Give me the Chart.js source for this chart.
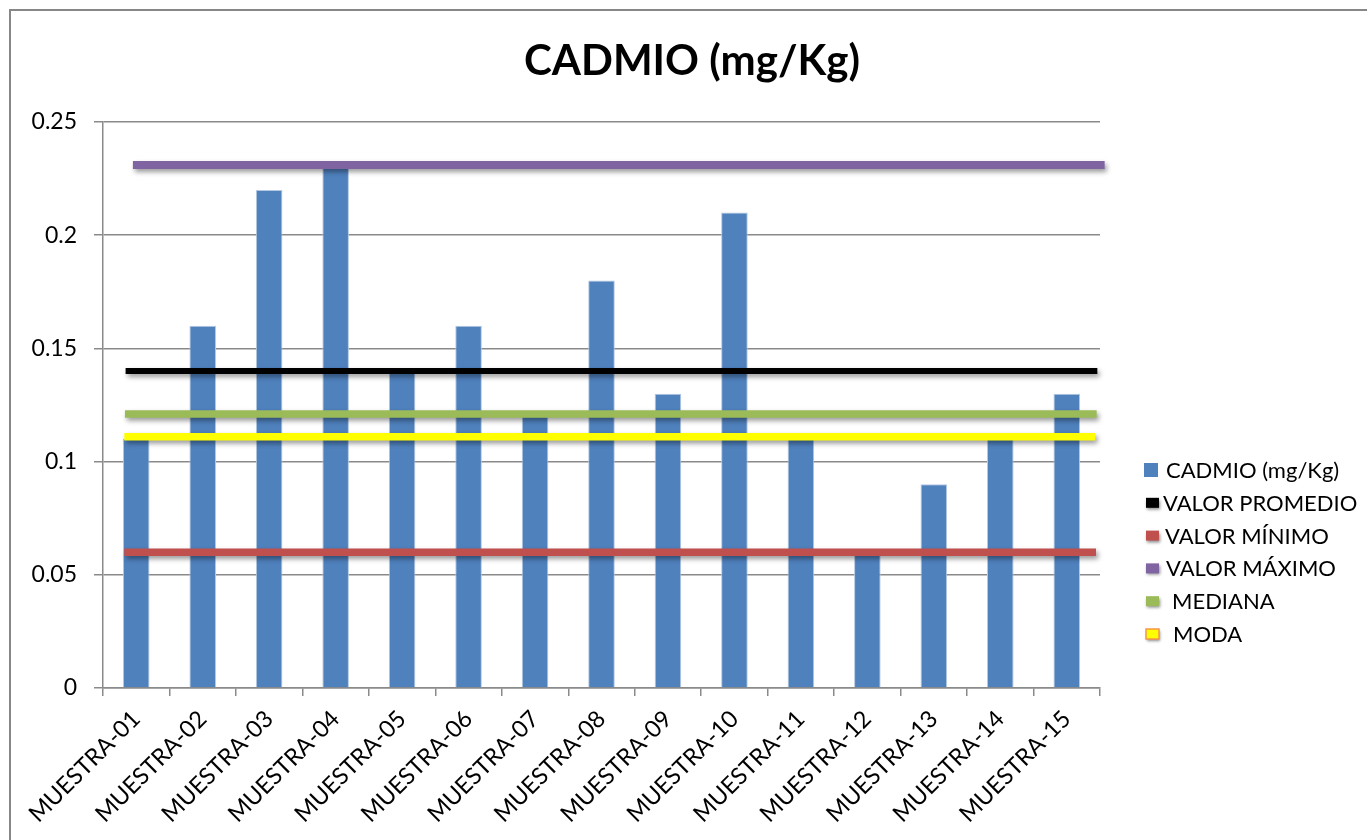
<!DOCTYPE html>
<html>
<head>
<meta charset="utf-8">
<script src="https://cdn.jsdelivr.net/npm/chart.js@4.4.1/dist/chart.umd.min.js"></script>
<style>
  html, body { margin: 0; padding: 0; background: #fff; overflow: hidden; width: 1367px; height: 840px; }
  #frame { position: absolute; left: 9px; top: 9px; width: 1400px; height: 900px; border: 2px solid #878787; box-sizing: border-box; }
  #wrap { position: absolute; left: 11px; top: 12px; width: 1362px; height: 828px; }
</style>
</head>
<body>
<div id="frame"></div>
<div id="wrap"><canvas id="c" width="1362" height="828"></canvas></div>
<script>
// Samples and measured cadmium content
const categories = ['MUESTRA-01', 'MUESTRA-02', 'MUESTRA-03', 'MUESTRA-04', 'MUESTRA-05',
  'MUESTRA-06', 'MUESTRA-07', 'MUESTRA-08', 'MUESTRA-09', 'MUESTRA-10',
  'MUESTRA-11', 'MUESTRA-12', 'MUESTRA-13', 'MUESTRA-14', 'MUESTRA-15'];
const cadmio = [0.11, 0.16, 0.22, 0.23, 0.14, 0.16, 0.12, 0.18, 0.13, 0.21, 0.11, 0.06, 0.09, 0.11, 0.13];

// Reference statistics drawn as horizontal lines
const refLabels = ['VALOR PROMEDIO', 'VALOR MÍNIMO', 'VALOR MÁXIMO', 'MEDIANA', 'MODA'];
const refValues = [0.14, 0.06, 0.231, 0.121, 0.111];
// horizontal extent of each line, in category units (0 = left edge, 15 = right edge)
const refStart = [0.34, 0.32, 0.45, 0.33, 0.32];
const refEnd = [14.96, 14.94, 15.07, 14.95, 14.93];

const yTicks = [0, 0.05, 0.1, 0.15, 0.2, 0.25];

// styles
const barColor = '#4F81BD';
const refColors = ['#000000', '#C0504D', '#8064A2', '#9BBB59', '#FFFF00'];
const refWidths = [6, 7.5, 8, 7.5, 7.5];
const axisGray = '#8a8a8a';
const FONT = 'Lato, "Open Sans", sans-serif';

const datasets = [{
  type: 'bar',
  label: 'CADMIO (mg/Kg)',
  data: cadmio,
  backgroundColor: barColor,
  borderColor: '#b4c8e2',
  borderWidth: 1,
  barPercentage: 0.4,
  categoryPercentage: 1,
  grouped: false,
  order: 2
}];
refLabels.forEach((label, i) => {
  datasets.push({
    type: 'line',
    label: label,
    data: [{ x: refStart[i], y: refValues[i] }, { x: refEnd[i], y: refValues[i] }],
    xAxisID: 'xl',
    yAxisID: 'y',
    borderColor: refColors[i],
    backgroundColor: refColors[i],
    borderWidth: refWidths[i],
    borderCapStyle: 'butt',
    pointRadius: 0,
    tension: 0,
    clip: false,
    order: 1
  });
});

// soft drop shadow under the statistic lines
const lineShadow = {
  id: 'lineShadow',
  beforeDatasetDraw(chart, args) {
    if (args.meta.type !== 'line') return;
    const ctx = chart.ctx;
    ctx.save();
    ctx.shadowColor = 'rgba(0,0,0,0.4)';
    ctx.shadowBlur = 5;
    ctx.shadowOffsetX = 2;
    ctx.shadowOffsetY = 3;
  },
  afterDatasetDraw(chart, args) {
    if (args.meta.type !== 'line') return;
    chart.ctx.restore();
  }
};

// legend drawn to the right of the plot
const textOffsets = [66, 63, 65, 66, 72, 73];
const sideLegend = {
  id: 'sideLegend',
  afterDraw(chart) {
    const { ctx, chartArea } = chart;
    ctx.save();
    ctx.font = '22px ' + FONT;
    ctx.textBaseline = 'middle';
    chart.data.datasets.forEach((ds, i) => {
      const y = chartArea.top + 348 + i * 32.8;
      const mx = chartArea.right + (i === 0 ? 44 : 45);
      ctx.save();
      if (i === 0) {
        ctx.fillStyle = ds.backgroundColor;
        ctx.fillRect(mx, y - 7, 14, 14);
      } else {
        ctx.shadowColor = 'rgba(0,0,0,0.45)';
        ctx.shadowBlur = 3;
        ctx.shadowOffsetX = 1;
        ctx.shadowOffsetY = 2;
        ctx.fillStyle = ds.borderColor;
        ctx.fillRect(mx + 1, y - 5, 13, 10);
        if (ds.label === 'MODA') {
          ctx.shadowColor = 'transparent';
          ctx.strokeStyle = '#F79646';
          ctx.lineWidth = 1.5;
          ctx.strokeRect(mx + 1, y - 5, 13, 10);
        }
      }
      ctx.restore();
      ctx.fillStyle = '#000';
      ctx.fillText(ds.label, chartArea.right + textOffsets[i], y + 1);
    });
    ctx.restore();
  }
};

new Chart(document.getElementById('c'), {
  type: 'bar',
  data: { labels: categories, datasets: datasets },
  plugins: [lineShadow, sideLegend],
  options: {
    responsive: false,
    animation: false,
    layout: { padding: 0 },
    plugins: {
      legend: { display: false },
      tooltip: { enabled: false },
      title: {
        display: true,
        text: 'CADMIO (mg/Kg)',
        color: '#000',
        font: { family: FONT, size: 42, weight: 'bold' },
        padding: { top: 24, bottom: 35.6 }
      }
    },
    scales: {
      x: {
        type: 'category',
        offset: true,
        grid: { offset: true, drawOnChartArea: false, drawTicks: true, tickLength: 8, color: axisGray, lineWidth: 1.5 },
        border: { color: axisGray, width: 1.5 },
        ticks: {
          color: '#000',
          font: { family: FONT, size: 23.5 },
          minRotation: 45,
          maxRotation: 45,
          autoSkip: false,
          padding: 9
        },
        afterFit(scale) { scale.height = 152; }
      },
      xl: { type: 'linear', display: false, offset: false, min: 0, max: 15 },
      y: {
        min: 0,
        max: 0.25,
        afterBuildTicks(scale) { scale.ticks = yTicks.map(v => ({ value: v })); },
        grid: { color: axisGray, lineWidth: 1.5, tickLength: 9 },
        border: { color: axisGray, width: 1.5 },
        ticks: {
          color: '#000',
          font: { family: FONT, size: 23 },
          padding: 17,
          callback: v => String(+v.toFixed(2))
        },
        afterFit(scale) { scale.width = 92; }
      },
      // empty right-hand axis reserving room for the legend
      legendSpace: {
        type: 'linear',
        position: 'right',
        display: true,
        grid: { display: false, drawTicks: false },
        border: { display: false },
        ticks: { display: false },
        afterFit(scale) { scale.width = 273; }
      }
    }
  }
});
</script>
</body>
</html>
